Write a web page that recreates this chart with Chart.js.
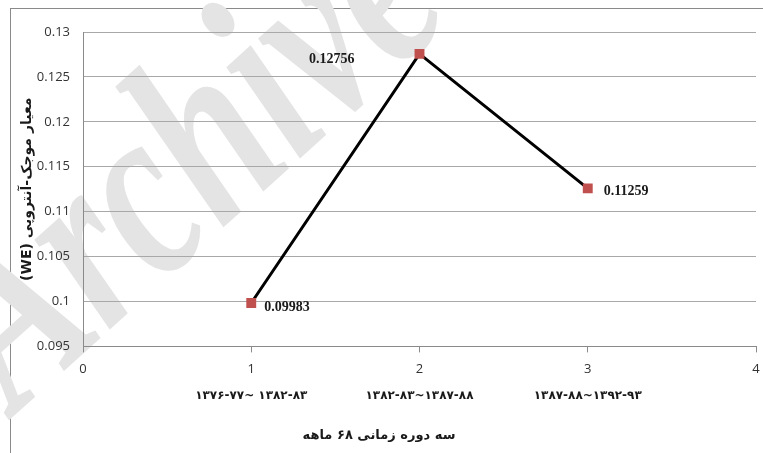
<!DOCTYPE html>
<html><head><meta charset="utf-8">
<script src="https://cdn.jsdelivr.net/npm/chart.js@4/dist/chart.umd.min.js"></script>
<style>html,body{margin:0;padding:0;background:#fff;overflow:hidden}</style>
</head><body>
<canvas id="c" width="763" height="453" style="display:block;width:763px;height:453px"></canvas>
<script>
// ---- data ----
const periods = [1, 2, 3];
const weValues = [0.09983, 0.12756, 0.11259];
const valueLabels = ['0.09983', '0.12756', '0.11259'];
const periodLabels = ['۱۳۷۶-۷۷~ ۱۳۸۲-۸۳', '۱۳۸۲-۸۳~۱۳۸۷-۸۸', '۱۳۸۷-۸۸~۱۳۹۲-۹۳'];
const xRange = [0, 4];
const yRange = [0.095, 0.13];
const yStep = 0.005;
const yTitle = '(WE) معیار موجک-آنتروپی';
const xTitle = 'سه دوره زمانی ۶۸ ماهه';
const watermarkText = 'Archive';

// label placement relative to each point: [dx, dy, align]
const labelPlacement = [[13, 4, 'left'], [-65, 5, 'right'], [16, 3, 'left']];

const backgroundPlugin = {
  id: 'bgWatermark',
  beforeDraw(chart) {
    const ctx = chart.ctx;
    ctx.save();
    ctx.fillStyle = '#ffffff';
    ctx.fillRect(0, 0, chart.width, chart.height);
    // outer frame
    ctx.strokeStyle = '#8a8a8a';
    ctx.lineWidth = 1;
    ctx.strokeRect(10.5, 8.5, 900, 600);
    // watermark
    ctx.translate(16, 414);
    ctx.rotate(-42 * Math.PI / 180);
    ctx.scale(0.72, 1);
    ctx.font = 'italic bold 255px "Liberation Serif"';
    ctx.fillStyle = '#e4e4e4';
    ctx.textBaseline = 'alphabetic';
    ctx.fillText(watermarkText, 0, 0);
    ctx.restore();
  }
};

const valueLabelPlugin = {
  id: 'valueLabels',
  afterDatasetsDraw(chart) {
    const ctx = chart.ctx;
    const meta = chart.getDatasetMeta(0);
    ctx.save();
    ctx.font = 'bold 14px "Liberation Serif"';
    ctx.fillStyle = '#1a1a1a';
    ctx.textBaseline = 'middle';
    meta.data.forEach((pt, i) => {
      const [dx, dy, al] = labelPlacement[i];
      ctx.textAlign = al;
      ctx.fillText(valueLabels[i], pt.x + dx, pt.y + dy);
    });
    ctx.restore();
  }
};

const fmt = v => String(Number(v.toFixed(3)));

new Chart(document.getElementById('c'), {
  type: 'scatter',
  data: {
    datasets: [{
      data: periods.map((p, i) => ({x: p, y: weValues[i]})),
      showLine: true,
      borderColor: '#000000',
      borderWidth: 3,
      pointStyle: 'rect',
      pointRadius: 7,
      pointHoverRadius: 7,
      pointBackgroundColor: '#c0504d',
      pointBorderColor: '#c0504d',
      pointBorderWidth: 0,
      xAxisID: 'x',
      yAxisID: 'y'
    }]
  },
  options: {
    responsive: false,
    animation: false,
    events: [],
    layout: {padding: {left: 0, right: 5, top: 32, bottom: 0}},
    plugins: {
      legend: {display: false},
      tooltip: {enabled: false},
      title: {
        display: true, position: 'bottom', text: xTitle, color: '#1a1a1a',
        font: {family: '"DejaVu Sans"', size: 13, weight: 'bold'},
        padding: {top: 0, bottom: 10}
      }
    },
    scales: {
      x: {
        type: 'linear', position: 'bottom', min: xRange[0], max: xRange[1],
        ticks: {stepSize: 1, padding: 9, color: '#333', font: {family: '"Open Sans"', size: 13}, maxRotation: 0},
        grid: {drawOnChartArea: false, drawTicks: true, tickLength: 6, color: '#8a8a8a'},
        border: {color: '#8a8a8a'},
        afterFit(s) { s.height = 30; s.paddingRight = 0; s.paddingLeft = 0; }
      },
      x2: {
        type: 'linear', position: 'bottom', min: xRange[0], max: xRange[1],
        ticks: {
          stepSize: 1, padding: 12, autoSkip: false, maxRotation: 0, color: '#1a1a1a',
          font: {family: '"DejaVu Sans"', size: 12, weight: 'bold'},
          callback: v => { const i = periods.indexOf(v); return i >= 0 ? periodLabels[i] : ''; }
        },
        grid: {display: false, drawTicks: false},
        border: {display: false},
        afterFit(s) { s.height = 51; s.paddingRight = 0; s.paddingLeft = 0; }
      },
      y: {
        type: 'linear', min: yRange[0], max: yRange[1],
        ticks: {stepSize: yStep, padding: 13, color: '#333', font: {family: '"Open Sans"', size: 13}, callback: v => fmt(v)},
        grid: {drawTicks: false, color: '#a8a8a8'},
        border: {color: '#8a8a8a'},
        title: {display: true, text: yTitle, color: '#1a1a1a', font: {family: '"DejaVu Sans"', size: 14, weight: 'bold'}, padding: {top: 19, bottom: 0}},
        afterFit(s) { s.width = 83; }
      }
    }
  },
  plugins: [backgroundPlugin, valueLabelPlugin]
});
</script>
</body></html>
